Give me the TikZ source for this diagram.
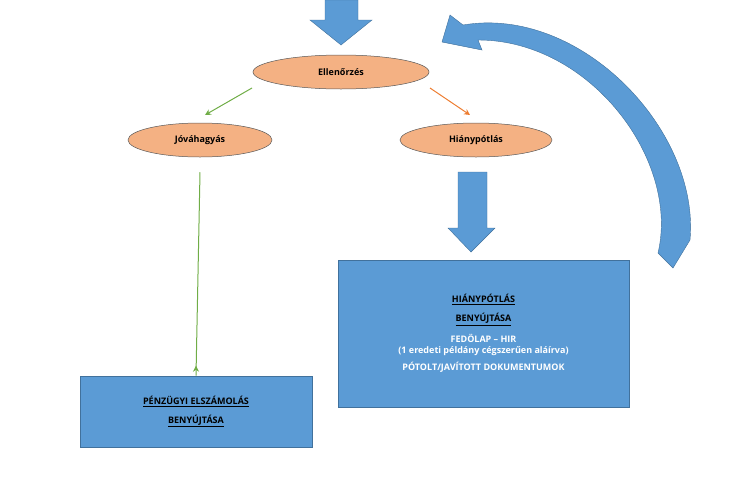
\documentclass[tikz,border=0pt]{standalone}
\usepackage{fontspec}
\setmainfont{Open Sans}
\usetikzlibrary{shapes.geometric,arrows.meta}
\definecolor{bl}{HTML}{5B9BD5}
\definecolor{bld}{HTML}{41719C}
\definecolor{org}{HTML}{F4B183}
\definecolor{grn}{HTML}{70AD47}
\definecolor{orr}{HTML}{ED7D31}
\begin{document}
\begin{tikzpicture}[x=1pt,y=-1pt,
 ell/.style={ellipse,draw=gray!70!black,fill=org,line width=0.5pt,font=\bfseries\fontsize{9}{11}\selectfont},
 box/.style={draw=bld,fill=bl,line width=0.6pt,align=center,font=\bfseries\fontsize{9}{11}\selectfont},
 blarrow/.style={fill=bl,draw=bld,line width=0.4pt}]
\useasboundingbox (0,0) rectangle (730,498);
\node[ell,minimum width=176pt,minimum height=34pt] (e) at (341,72) {Ellenőrzés};
\node[ell,minimum width=144pt,minimum height=34pt] (j) at (200,140) {Jóváhagyás};
\node[ell,minimum width=152pt,minimum height=34pt] (h) at (476,140) {Hiánypótlás};
\node[box,minimum width=232pt,minimum height=71pt] (b1) at (196,411.5) {\underline{PÉNZÜGYI ELSZÁMOLÁS}\\[8pt]\underline{BENYÚJTÁSA}};
\node[box,minimum width=291pt,minimum height=147pt] (b2) at (483.5,333.5) {\underline{HIÁNYPÓTLÁS}\\[8pt]\underline{BENYÚJTÁSA}\\[8pt]\color{white}FEDÖLAP – HIR\\\color{white}(1 eredeti példány cégszerűen aláírva)\\[6pt]\color{white}PÓTOLT/JAVÍTOTT DOKUMENTUMOK};
\coordinate (g1) at (252,88); \coordinate (g2) at (205,115);
\coordinate (o1) at (430,88); \coordinate (o2) at (470,115);
\draw[grn,line width=1pt,-{Stealth[length=6pt,width=6pt]}] (g1) -- (g2);
\draw[orr,line width=1pt,-{Stealth[length=6pt,width=6pt]}] (o1) -- (o2);
\draw[grn,line width=1pt,-{Stealth[length=6pt,width=6pt]}] (j.south) ++(0,15) coordinate (js) -- (b1.north) ++(0,-10);
\draw[blarrow] (325,0) -- (358,0) -- (358,20) -- (372,20) -- (341,45) -- (310,20) -- (325,20) -- cycle;
\draw[blarrow] (458,172) -- (487,172) -- (487,228) -- (495,228) -- (471,252) -- (448,228) -- (458,228) -- cycle;
\fill[bl,draw=bld,line width=0.4pt] (442,42) -- (450,15) -- (463,25) .. controls (580,5) and (700,130) .. (690,240) -- (673,268) -- (658,253) .. controls (680,160) and (590,40) .. (478,40) -- (482,50) -- cycle;
\end{tikzpicture}
\end{document}
